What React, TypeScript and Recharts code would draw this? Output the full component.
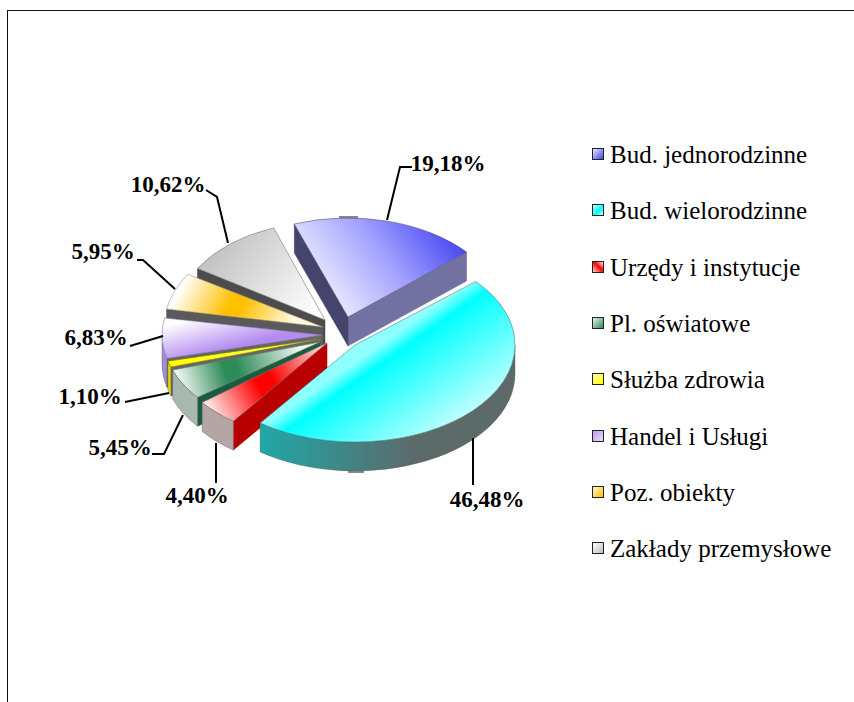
import React from 'react';
import { PieChart, Pie, Legend } from 'recharts';

const categories = ['Bud. jednorodzinne', 'Bud. wielorodzinne', 'Urzędy i instytucje', 'Pl. oświatowe', 'Służba zdrowia', 'Handel i Usługi', 'Poz. obiekty', 'Zakłady przemysłowe'];
const shares = [19.18, 46.48, 4.4, 5.45, 1.1, 6.83, 5.95, 10.62];

const rows = categories.map((name, i) => ({ name, value: shares[i] }));

const CX = 335, CY = 335, DEPTH = 29;

type Look = { dx: number; dy: number; rx: number; ry: number; grad: number[]; stops: [number, string][]; side: string; rim: string | [string, string]; extra?: string; stroke: string };
const looks: Look[] = [
  { dx: 13, dy: -18, rx: 157, ry: 99, grad: [466, 225, 335, 325], stops: [[0, '#3434f0'], [0.5, '#a0a0ff'], [1, '#f6f6ff']], side: '#44446c', extra: '#7272a2', rim: '#7272a2', stroke: '#55557a' },
  { dx: 20, dy: 10, rx: 160, ry: 97, grad: [377, 347, 448, 449], stops: [[0, '#8fffff'], [0.13, '#00ffff'], [0.55, '#6cffff'], [1, '#e4ffff']], side: '#3a8080', rim: ['#1fa8a8', '#5c6a6a'], stroke: '#4d8080' },
  { dx: -8, dy: 8, rx: 158, ry: 97, grad: [207, 410, 320, 348], stops: [[0, '#fff2f2'], [0.44, '#ff0000'], [0.56, '#ff0000'], [1, '#ffd6d6']], side: '#b80000', rim: '#b5a6a6', stroke: '#8a7070' },
  { dx: -15, dy: 7, rx: 155, ry: 90, grad: [180, 388, 300, 350], stops: [[0, '#f4f9f6'], [0.38, '#2e8b57'], [0.48, '#2e8b57'], [1, '#eef6f1']], side: '#1b5c40', rim: '#a9b8ae', stroke: '#668070' },
  { dx: -14, dy: 4, rx: 158, ry: 90, grad: [170, 360, 320, 340], stops: [[0, '#ffff00'], [1, '#ffff66']], side: '#666666', rim: '#e6d800', stroke: '#888800' },
  { dx: -13, dy: 0, rx: 160, ry: 95, grad: [205, 315, 215, 352], stops: [[0, '#ffffff'], [1, '#b48cf0']], side: '#666666', rim: '#a58ad8', stroke: '#8a7ab0' },
  { dx: -12, dy: -8, rx: 159, ry: 100, grad: [190, 270, 290, 325], stops: [[0, '#ffffff'], [0.45, '#ffc000'], [0.55, '#ffc000'], [1, '#fff8e0']], side: '#5a5a5a', rim: '#c0a060', stroke: '#a09070' },
  { dx: -10, dy: -15, rx: 150, ry: 98, grad: [210, 240, 310, 320], stops: [[0, '#bdbdbd'], [1, '#ffffff']], side: '#4c4c4c', rim: '#999999', stroke: '#777777' },
];

const paintOrder = [0, 7, 6, 5, 4, 3, 2, 1];

const callouts: { text: [number, number]; path: [number, number][] }[] = [
  { text: [448, 171], path: [[387, 220], [400, 167], [412, 167]] },
  { text: [487, 507], path: [[473, 438], [473, 485]] },
  { text: [197, 503], path: [[216, 443], [216, 483]] },
  { text: [120, 455], path: [[183, 415], [164, 454], [152, 454]] },
  { text: [90, 404], path: [[169, 393], [125, 402]] },
  { text: [96, 345], path: [[163, 336], [130, 346]] },
  { text: [103, 259], path: [[175, 289], [143, 260], [137, 260]] },
  { text: [168, 192], path: [[228, 243], [217, 197], [206, 190]] },
];

const legendSwatches = [
  'linear-gradient(135deg,#e8e8ff,#4040f0)',
  'linear-gradient(135deg,#bfffff,#00ffff 60%,#e0ffff)',
  'linear-gradient(45deg,#ffd0d0,#ff0000 55%,#fff0f0)',
  'linear-gradient(135deg,#e8f4ec,#2e8b57)',
  'linear-gradient(135deg,#ffffb0,#ffff00)',
  'linear-gradient(135deg,#c09af0,#e8dcfb)',
  'linear-gradient(135deg,#fff6d8,#ffc000)',
  'linear-gradient(135deg,#ffffff,#bdbdbd)',
];

function sliceShape(target: number) {
  return (props: any) => {
    const idx = props.index ?? categories.indexOf(props.name ?? props.payload?.name);
    if (idx !== target) return <g />;
    const look = looks[idx];
    const ax = (props.cx ?? CX) + look.dx;
    const ay = (props.cy ?? CY) + look.dy;
    const a1 = 90 - props.startAngle;
    const a2 = 90 - props.endAngle;
    const pt = (a: number, drop = 0): [number, number] => {
      const r = (a * Math.PI) / 180;
      return [ax + look.rx * Math.sin(r), ay - look.ry * Math.cos(r) + drop];
    };
    const p1 = pt(a1);
    const p2 = pt(a2);
    const large = a2 - a1 > 180 ? 1 : 0;
    const top = `M${ax},${ay}L${p1[0]},${p1[1]}A${look.rx},${look.ry} 0 ${large} 1 ${p2[0]},${p2[1]}Z`;
    const wall = (p: [number, number]) => `M${ax},${ay}L${p[0]},${p[1]}L${p[0]},${p[1] + DEPTH}L${ax},${ay + DEPTH}Z`;
    const w1 = Math.max(a1, 90);
    const w2 = Math.min(a2, 270);
    const q1 = pt(w1), q2 = pt(w2), q1d = pt(w1, DEPTH), q2d = pt(w2, DEPTH);
    const rimPath = w2 > w1
      ? `M${q1[0]},${q1[1]}A${look.rx},${look.ry} 0 0 1 ${q2[0]},${q2[1]}L${q2d[0]},${q2d[1]}A${look.rx},${look.ry} 0 0 0 ${q1d[0]},${q1d[1]}Z`
      : '';
    const faceId = `face${idx}`;
    const rimId = `rim${idx}`;
    const startShown = idx !== 1;
    return (
      <g>
        <defs>
          <linearGradient id={faceId} gradientUnits="userSpaceOnUse" x1={look.grad[0]} y1={look.grad[1]} x2={look.grad[2]} y2={look.grad[3]}>
            {look.stops.map(([o, c]) => <stop key={o} offset={o} stopColor={c} />)}
          </linearGradient>
          {Array.isArray(look.rim) && (
            <linearGradient id={rimId} x1="0" y1="0" x2="1" y2="0">
              <stop offset="0" stopColor={look.rim[0]} />
              <stop offset="0.6" stopColor={look.rim[1]} />
              <stop offset="1" stopColor={look.rim[1]} />
            </linearGradient>
          )}
        </defs>
        {idx === 0 && <rect x={pt(0)[0] - 9} y={pt(0)[1] - 2} width={19} height={4} fill="#888888" />}
        {idx === 1 && <rect x={pt(180)[0] - 7} y={pt(180)[1] + DEPTH - 1} width={16} height={3} fill="#888888" />}
        {idx === 0 && <path d={wall(p2)} fill={look.extra} stroke={look.extra} strokeWidth={0.5} />}
        {startShown && <path d={wall(p1)} fill={look.side} stroke={look.side} strokeWidth={0.5} />}
        {rimPath && <path d={rimPath} fill={Array.isArray(look.rim) ? `url(#${rimId})` : look.rim} stroke="#555" strokeWidth={0.4} />}
        <path d={top} fill={`url(#${faceId})`} stroke={look.stroke} strokeWidth={0.6} />
      </g>
    );
  };
}

function calloutLabel(props: any) {
  const idx = props.index ?? 0;
  const c = callouts[idx];
  const txt = Number(shares[idx]).toFixed(2).replace('.', ',') + '%';
  return (
    <g key={idx}>
      <polyline points={c.path.map((p) => p.join(',')).join(' ')} fill="none" stroke="#000" strokeWidth={2} />
      <text x={c.text[0]} y={c.text[1]} textAnchor="middle" fontFamily="'Liberation Serif'" fontWeight="bold" fontSize={23} fill="#000">{txt}</text>
    </g>
  );
}

function LegendBox() {
  return (
    <div style={{ position: 'relative', width: 260, height: 430, fontFamily: "'Liberation Serif'", fontSize: 25, color: '#000' }}>
      {categories.map((c, i) => (
        <div key={c} style={{ position: 'absolute', left: 0, top: 56.3 * i, height: 26, lineHeight: '26px', whiteSpace: 'nowrap' }}>
          <span style={{ position: 'absolute', left: 0, top: 6, width: 10, height: 10, border: '1.5px solid #222', background: legendSwatches[i] }} />
          <span style={{ position: 'absolute', left: 18, top: 0 }}>{c}</span>
        </div>
      ))}
    </div>
  );
}

export default function App() {
  return (
    <div style={{ position: 'fixed', left: 0, top: 0, width: 854, height: 702, overflow: 'hidden', background: '#fff' }}>
      <div style={{ position: 'absolute', left: 7, top: 10, width: 1000, height: 1000, border: '1px solid #111' }} />
      <div style={{ position: 'absolute', left: 0, top: 0 }}>
        <PieChart width={854} height={702} margin={{ top: 0, right: 0, bottom: 0, left: 0 }} style={{ background: 'transparent' }}>
          {paintOrder.map((idx, n) => (
            <Pie
              key={idx}
              data={rows}
              dataKey="value"
              nameKey="name"
              cx={CX}
              cy={CY}
              outerRadius={160}
              startAngle={110}
              endAngle={-250}
              stroke="none"
              legendType="none"
              isAnimationActive={false}
              shape={sliceShape(idx)}
              label={n === paintOrder.length - 1 ? calloutLabel : false}
              labelLine={false}
            />
          ))}
          <Legend content={<LegendBox />} wrapperStyle={{ position: 'absolute', left: 592, top: 142, width: 260 }} />
        </PieChart>
      </div>
    </div>
  );
}
